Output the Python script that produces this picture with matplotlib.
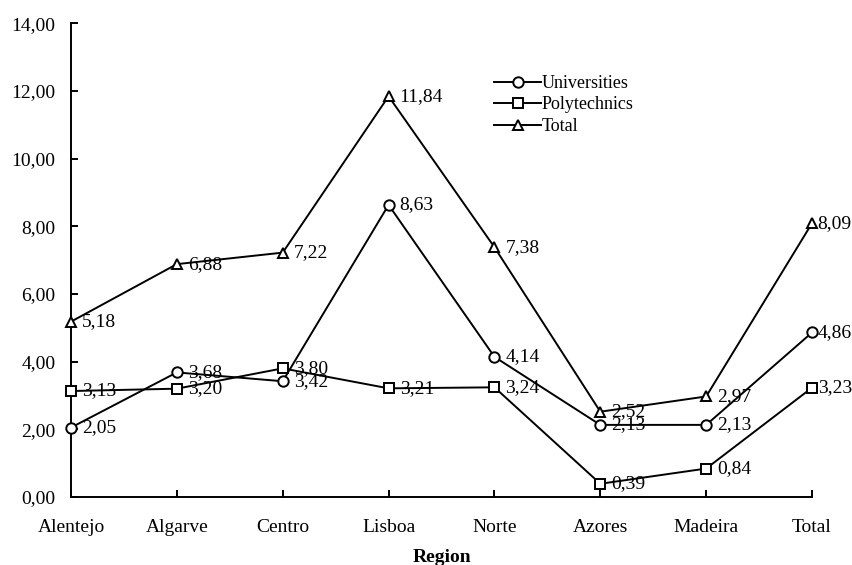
import matplotlib.pyplot as plt
from matplotlib.ticker import FuncFormatter

regions = ["Alentejo", "Algarve", "Centro", "Lisboa", "Norte", "Azores", "Madeira", "Total"]
universities = [2.05, 3.68, 3.42, 8.63, 4.14, 2.13, 2.13, 4.86]
polytechnics = [3.13, 3.20, 3.80, 3.21, 3.24, 0.39, 0.84, 3.23]
total = [5.18, 6.88, 7.22, 11.84, 7.38, 2.52, 2.97, 8.09]

plt.rcParams['font.family'] = ['Liberation Serif', 'DejaVu Serif']
plt.rcParams['font.size'] = 14

fig = plt.figure(figsize=(8.53, 5.65), dpi=100)
ax = fig.add_axes([0.0832, 0.1204, 0.952 - 0.0832, 0.959 - 0.1204])

x = list(range(len(regions)))
series = [("Universities", universities, "o"),
          ("Polytechnics", polytechnics, "s"),
          ("Total", total, "^")]

for name, vals, m in series:
    ax.plot(x, vals, color="black", linewidth=1.4, marker=m, markersize=7.5,
            markerfacecolor="white", markeredgecolor="black", markeredgewidth=1.4,
            label=name, clip_on=False, zorder=3)
    # value labels to the right of each marker
    for xi, v in zip(x, vals):
        off = 4 if xi == x[-1] else 8
        ax.annotate(f"{v:.2f}".replace(".", ","), (xi, v), xytext=(off, 0),
                    textcoords="offset points", ha="left", va="center", fontsize=14)

ax.set_xlim(0, len(regions) - 1)
ax.set_ylim(0, 14)
ax.set_yticks(range(0, 15, 2))
ax.yaxis.set_major_formatter(FuncFormatter(lambda v, p: f"{v:.2f}".replace(".", ",")))
ax.set_xticks(x)
ax.set_xticklabels(regions)
ax.tick_params(axis="both", direction="in", length=5, width=1.4, colors="black")
ax.tick_params(axis="x", pad=16)
ax.tick_params(axis="y", pad=11)

ax.spines["top"].set_visible(False)
ax.spines["right"].set_visible(False)
ax.spines["left"].set_linewidth(1.4)
ax.spines["bottom"].set_linewidth(1.4)

ax.set_xlabel("Region", fontweight="bold", fontsize=14, labelpad=9)

ax.legend(loc="upper left", bbox_to_anchor=(0.549, 0.925), frameon=False,
          handlelength=2.6, handletextpad=0.05, labelspacing=0.25, fontsize=13)

fig.savefig("out.png", dpi=100)
